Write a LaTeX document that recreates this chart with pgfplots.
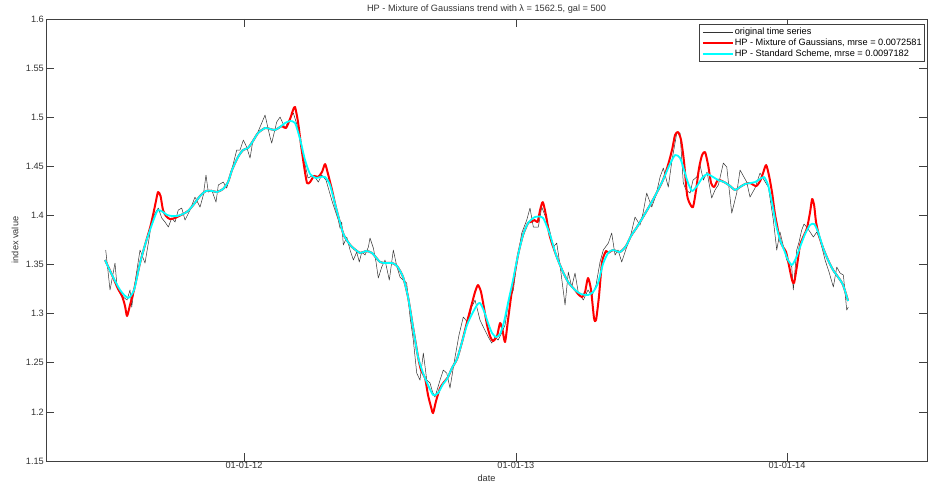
\documentclass[border=0pt]{standalone}
\usepackage{pgfplots}
\pgfplotsset{compat=1.18}
\usepackage{pgfplotstable}
\usepackage{fontspec}
\setmainfont{Liberation Sans}
\newcommand{\mfont}{\fontsize{9.2bp}{11bp}\selectfont}
\definecolor{mred}{rgb}{1,0,0}
\definecolor{mcyan}{rgb}{0,1,1}
\pgfplotsset{every axis title shift=0pt}

\pgfplotstableread{
d v
-186.2 1.3648
-180.4 1.3241
-173.7 1.3515
-171.4 1.3312
-166.9 1.3220
-162.5 1.3169
-157.5 1.3139
-153.5 1.3241
-151.2 1.3067
-146.7 1.3322
-140.0 1.3648
-133.3 1.3515
-128.8 1.3719
-124.3 1.3933
-119.8 1.4024
-115.4 1.4075
-110.8 1.3974
-106.4 1.3933
-101.9 1.3882
-97.3 1.3974
-92.9 1.3933
-88.5 1.4055
-83.9 1.4075
-79.4 1.3953
-72.7 1.4055
-66.0 1.4187
-59.2 1.4085
-54.8 1.4208
-51.2 1.4411
-48.1 1.4238
-43.5 1.4259
-37.7 1.4136
-34.6 1.4310
-27.9 1.4340
-23.3 1.4279
-16.6 1.4462
-9.8 1.4666
-5.4 1.4666
-0.9 1.4768
3.6 1.4696
8.1 1.4584
12.1 1.4768
17.1 1.4819
23.8 1.4941
28.3 1.5022
35.0 1.4798
37.3 1.4737
44.0 1.4951
48.5 1.5002
55.2 1.4890
61.9 1.4992
66.4 1.5043
71.4 1.4920
75.4 1.4768
80.8 1.4564
86.2 1.4381
91.5 1.4402
95.6 1.4391
100.0 1.4340
104.6 1.4411
110.4 1.4360
118.1 1.4157
120.2 1.4106
126.9 1.3953
129.2 1.3872
131.5 1.3933
133.7 1.3699
138.3 1.3780
142.7 1.3648
147.2 1.3546
151.7 1.3627
155.2 1.3526
158.5 1.3627
162.9 1.3597
167.4 1.3678
169.6 1.3770
174.1 1.3668
177.7 1.3526
180.8 1.3363
185.4 1.3475
189.8 1.3546
195.6 1.3342
201.0 1.3648
205.6 1.3485
210.0 1.3373
214.1 1.3342
219.0 1.3312
223.5 1.2966
227.9 1.2731
232.5 1.2395
236.9 1.2324
241.4 1.2599
246.0 1.2324
250.4 1.2294
253.8 1.2202
257.1 1.2151
263.9 1.2324
268.3 1.2426
272.9 1.2395
277.3 1.2243
284.1 1.2558
289.4 1.2782
295.2 1.2966
301.9 1.2905
306.5 1.3067
311.0 1.3139
317.7 1.2935
322.2 1.2864
328.9 1.2762
333.5 1.2701
337.9 1.2762
342.0 1.2731
346.9 1.2803
351.4 1.2884
355.8 1.3108
362.6 1.3241
367.1 1.3515
373.9 1.3821
380.6 1.3953
385.0 1.4075
389.5 1.3882
396.2 1.3882
400.8 1.4086
407.5 1.3953
412.0 1.3831
416.4 1.3678
421.0 1.3719
425.4 1.3495
432.2 1.3088
436.6 1.3424
441.2 1.3271
445.6 1.3414
450.1 1.3210
456.8 1.3139
463.1 1.3241
468.5 1.3179
473.9 1.3291
479.3 1.3526
483.7 1.3648
490.5 1.3719
495.0 1.3821
499.5 1.3597
503.5 1.3648
508.5 1.3526
515.2 1.3678
519.7 1.3770
526.4 1.3984
533.1 1.3902
537.2 1.4024
542.1 1.4228
548.9 1.4086
554.7 1.4208
560.1 1.4391
564.5 1.4483
571.2 1.4289
576.2 1.4564
582.6 1.4839
587.0 1.4839
591.4 1.4330
595.1 1.4259
600.5 1.4228
604.5 1.4360
609.5 1.4391
613.9 1.4513
618.4 1.4360
623.4 1.4442
629.6 1.4177
634.1 1.4259
638.6 1.4310
645.3 1.4533
649.9 1.4493
656.6 1.4024
663.3 1.4228
667.8 1.4462
676.8 1.4340
681.2 1.4187
688.0 1.4279
694.7 1.4432
700.1 1.4360
705.9 1.4289
712.6 1.3953
717.2 1.3648
721.6 1.3831
725.7 1.3699
730.6 1.3546
733.7 1.3526
737.4 1.3475
739.5 1.3241
744.1 1.3648
747.2 1.3729
750.8 1.3851
753.9 1.3912
757.6 1.3882
762.1 1.3831
766.5 1.3780
771.1 1.3831
775.5 1.3750
782.3 1.3546
787.6 1.3424
793.4 1.3271
798.0 1.3475
802.4 1.3414
806.9 1.3393
811.4 1.3037
813.5 1.3067
}\original

\pgfplotstableread{
d v
-187.1 1.3546
-177.7 1.3394
-169.6 1.3251
-164.2 1.3179
-160.2 1.3078
-157.5 1.2976
-153.5 1.3088
-148.1 1.3241
-140.0 1.3516
-133.3 1.3699
-126.6 1.3872
-122.5 1.4004
-119.1 1.4126
-115.8 1.4238
-112.4 1.4198
-109.1 1.4055
-105.0 1.3994
-99.7 1.3963
-92.9 1.3974
-82.1 1.4015
-75.4 1.4045
-67.3 1.4116
-59.2 1.4198
-51.2 1.4249
-43.1 1.4249
-36.3 1.4239
-28.3 1.4269
-21.5 1.4340
-16.2 1.4463
-8.1 1.4595
-1.3 1.4666
5.4 1.4687
12.1 1.4758
18.8 1.4839
28.3 1.4890
35.0 1.4880
41.7 1.4870
48.5 1.4900
51.2 1.4910
56.5 1.4890
61.9 1.4981
66.0 1.5073
68.7 1.5104
72.7 1.4951
76.7 1.4717
80.8 1.4503
84.8 1.4330
88.9 1.4340
94.2 1.4402
99.6 1.4391
105.0 1.4442
109.1 1.4523
113.1 1.4422
118.5 1.4259
123.9 1.4076
133.3 1.3821
140.0 1.3730
145.4 1.3679
156.2 1.3618
164.2 1.3638
172.3 1.3618
183.1 1.3526
191.2 1.3516
199.2 1.3516
206.0 1.3485
214.1 1.3373
220.8 1.3170
227.5 1.2864
234.3 1.2559
238.5 1.2420
243.7 1.2345
247.7 1.2172
251.8 1.2049
254.5 1.1988
258.5 1.2110
263.9 1.2243
269.3 1.2304
274.7 1.2355
280.0 1.2447
286.8 1.2539
293.5 1.2712
301.6 1.2955
307.0 1.3108
311.0 1.3220
315.0 1.3291
319.1 1.3220
323.1 1.3057
327.2 1.2884
331.2 1.2772
335.2 1.2721
340.6 1.2772
344.7 1.2905
348.0 1.2833
351.4 1.2711
355.4 1.2935
360.8 1.3241
368.9 1.3597
375.6 1.3801
382.4 1.3923
385.8 1.3933
391.2 1.3953
395.2 1.3933
398.6 1.4055
402.2 1.4136
406.2 1.4014
411.6 1.3790
420.1 1.3597
428.2 1.3445
436.3 1.3322
445.6 1.3241
449.7 1.3200
455.1 1.3169
459.1 1.3220
463.1 1.3363
467.2 1.3241
471.2 1.2955
473.9 1.2935
477.9 1.3179
482.0 1.3526
487.4 1.3638
490.1 1.3618
496.8 1.3648
506.2 1.3628
514.3 1.3689
521.0 1.3791
529.1 1.3882
537.2 1.3984
546.6 1.4106
554.7 1.4218
564.1 1.4361
570.8 1.4513
576.2 1.4666
580.3 1.4819
584.3 1.4849
588.4 1.4768
592.4 1.4544
596.5 1.4208
600.5 1.4116
604.5 1.4086
608.6 1.4259
612.6 1.4483
616.7 1.4615
620.7 1.4645
624.8 1.4513
628.8 1.4330
632.8 1.4289
638.2 1.4361
646.3 1.4340
654.4 1.4300
661.1 1.4259
667.8 1.4290
674.6 1.4320
681.3 1.4330
689.4 1.4299
694.8 1.4350
698.8 1.4432
702.9 1.4513
706.9 1.4401
711.0 1.4228
715.0 1.4004
721.7 1.3750
725.7 1.3678
729.8 1.3627
733.8 1.3485
737.8 1.3342
740.5 1.3312
744.6 1.3495
748.6 1.3699
754.0 1.3800
758.0 1.3872
762.1 1.4035
764.8 1.4167
767.5 1.4106
770.1 1.3933
774.2 1.3790
779.6 1.3669
786.3 1.3546
793.0 1.3445
799.8 1.3373
806.5 1.3292
813.2 1.3129
}\mog

\pgfplotstableread{
d v
-187.1 1.3546
-177.7 1.3394
-166.9 1.3241
-156.2 1.3160
-148.1 1.3241
-140.0 1.3516
-133.3 1.3699
-126.6 1.3852
-119.8 1.3994
-115.8 1.4055
-109.1 1.4035
-103.7 1.4005
-96.9 1.3994
-90.2 1.3994
-82.1 1.4015
-75.4 1.4045
-67.3 1.4116
-59.2 1.4198
-51.2 1.4249
-43.1 1.4249
-36.3 1.4239
-28.3 1.4269
-21.5 1.4340
-16.2 1.4463
-8.1 1.4595
-1.3 1.4666
5.4 1.4687
12.1 1.4758
18.8 1.4839
28.3 1.4890
35.0 1.4880
41.7 1.4870
48.5 1.4900
55.2 1.4941
61.9 1.4961
68.7 1.4941
75.4 1.4778
82.1 1.4565
88.9 1.4422
96.9 1.4381
102.3 1.4391
109.1 1.4391
115.8 1.4310
123.9 1.4076
133.3 1.3821
140.0 1.3730
145.4 1.3679
156.2 1.3618
164.2 1.3638
172.3 1.3618
183.1 1.3526
191.2 1.3516
199.2 1.3516
206.0 1.3485
214.1 1.3373
220.8 1.3170
227.5 1.2864
234.3 1.2559
241.0 1.2396
247.7 1.2274
254.5 1.2172
261.2 1.2192
268.0 1.2284
273.3 1.2335
280.0 1.2447
286.8 1.2539
293.5 1.2712
300.2 1.2885
307.0 1.2997
313.7 1.3088
317.7 1.3109
323.1 1.3027
328.5 1.2905
333.9 1.2803
339.3 1.2762
344.7 1.2793
350.0 1.2915
355.4 1.3109
362.2 1.3343
368.9 1.3597
375.6 1.3801
382.4 1.3923
391.8 1.3984
402.6 1.3974
412.0 1.3801
420.1 1.3597
428.2 1.3445
436.3 1.3322
445.6 1.3241
453.7 1.3200
463.1 1.3190
469.9 1.3221
476.6 1.3312
483.3 1.3506
490.1 1.3618
496.8 1.3648
506.2 1.3628
514.3 1.3689
521.0 1.3791
529.1 1.3882
537.2 1.3984
546.6 1.4106
554.7 1.4218
564.1 1.4361
572.2 1.4503
580.3 1.4615
587.0 1.4585
592.4 1.4463
597.8 1.4330
603.2 1.4249
609.9 1.4300
616.7 1.4381
623.4 1.4422
631.5 1.4391
638.2 1.4361
646.3 1.4340
654.4 1.4300
661.1 1.4259
667.8 1.4290
674.6 1.4320
681.3 1.4330
688.1 1.4340
694.8 1.4371
700.2 1.4391
705.5 1.4310
710.9 1.4127
716.3 1.3903
721.7 1.3750
727.1 1.3648
732.4 1.3546
737.8 1.3496
743.2 1.3567
748.6 1.3679
755.3 1.3811
762.1 1.3903
767.5 1.3913
772.8 1.3832
779.6 1.3669
786.3 1.3546
793.0 1.3445
799.8 1.3373
806.5 1.3292
813.2 1.3129
}\standard

\begin{document}
\begin{tikzpicture}
\path[use as bounding box] (0,0) rectangle (929bp,486bp);
\begin{axis}[
  at={(46bp,25bp)}, anchor=south west,
  scale only axis, width=881bp, height=442bp,
  xmin=-266.6, xmax=919.5, ymin=1.15, ymax=1.6,
  xtick={0,366,731}, xticklabels={01-01-12,01-01-13,01-01-14},
  ytick={1.15,1.2,1.25,1.3,1.35,1.4,1.45,1.5,1.55,1.6},
  yticklabel style={/pgf/number format/fixed, /pgf/number format/precision=2, inner sep=2bp},
  xticklabel style={inner sep=1bp},
  /pgf/number format/assume math mode=true,
  tick label style={font=\mfont, text=black!80},
  label style={font=\mfont, text=black!80},
  tick align=inside, major tick length=8bp,
  axis line style={black!75, line width=0.6bp},
  every tick/.style={black!75, line width=0.6bp},
  title={HP - Mixture of Gaussians trend with λ = 1562.5, gal = 500},
  title style={font=\mfont, text=black!80, at={(axis description cs:0.5,1.0226)}, anchor=center},
  xlabel={date},
  xlabel style={at={(axis description cs:0.5,-0.0385)}, anchor=center},
  ylabel={index value},
  ylabel style={at={(axis description cs:-0.035,0.5)}, anchor=center, rotate=0},
  legend style={at={(axis description cs:0.9977,0.9887)}, anchor=north east,
    font=\mfont, draw=black!75, line width=0.6bp, inner xsep=2bp, inner ysep=2bp,
    row sep=0bp,
    nodes={inner sep=1bp, text height=7bp, text depth=2bp}},
  legend cell align=left,
  legend image code/.code={\draw[#1] (0bp,0bp) -- (30bp,0bp);},
]
\addplot[black!80, line width=0.5bp, line join=round] table[x=d, y=v] {\original};
\addlegendentry{original time series}
\addplot[mred, line width=2bp, smooth, tension=0.4, line join=round] table[x=d, y=v] {\mog};
\addlegendentry{HP - Mixture of Gaussians, mrse = 0.0072581}
\addplot[mcyan, line width=1.8bp, smooth, tension=0.4, line join=round] table[x=d, y=v] {\standard};
\addlegendentry{HP - Standard Scheme, mrse = 0.0097182}
\end{axis}
\end{tikzpicture}
\end{document}
